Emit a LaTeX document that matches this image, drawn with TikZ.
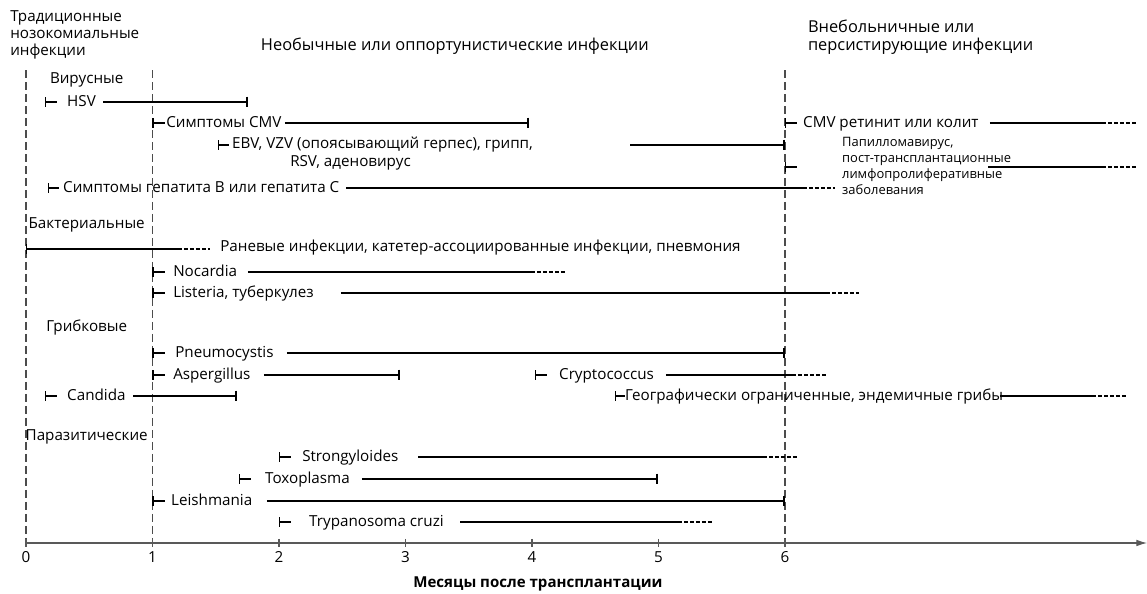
\documentclass[tikz,border=0pt]{standalone}
\usepackage{fontspec}
\setmainfont{Open Sans}
\usetikzlibrary{arrows.meta}

\begin{document}
\begin{tikzpicture}[x=94.875pt,y=-.75pt,
  txt/.style={anchor=west,inner sep=0pt,text height=1.5ex,text depth=.3ex,font=\fontsize{11.4}{13}\selectfont},
  grp/.style={inner sep=0pt,text height=1.5ex,text depth=.3ex,font=\fontsize{11.4}{13}\selectfont},
  note/.style={anchor=west,inner sep=0pt,align=left,font=\fontsize{9.7}{12}\selectfont},
  head/.style={inner sep=0pt,align=left,font=\fontsize{12.3}{13.5}\selectfont},
  run/.style={line width=1pt},
  tail/.style={line width=.8pt,dash pattern=on 3pt off 1.5pt},
  onset/.style={line width=1pt,{Bar[width=7pt]}-},
  stop/.style={line width=1pt,-{Bar[width=8pt,line width=1.8pt]}},
  phase/.style={black!70,line width=.8pt,dash pattern=on 6pt off 3pt}]
\useasboundingbox (-0.2055,0) rectangle (8.862,594);
\draw[phase] (0,70) -- (0,543);
\draw[phase] (1,70) -- (1,543);
\draw[phase] (6,70) -- (6,543);
\node[head,anchor=west,font=\fontsize{11.4}{12.75}\selectfont] (trad) at (-0.126,35) {Традиционные\\нозокомиальные\\инфекции};
\node[head] (opp) at (3.39,46) {Необычные или оппортунистические инфекции};
\node[head,anchor=west] (comm) at (6.18,37) {Внебольничные или\\персистирующие инфекции};
\node[grp] (vir) at (0.48,79) {Вирусные};
\draw[onset] (0.15,102) -- ++(0.095,0);
\node[txt] (hsv) at (0.324,102) {HSV};
\draw[stop] (0.609,102) -- (1.755,102);
\draw[onset] (1,123) -- ++(0.095,0);
\node[txt] (cmv) at (1.107,123) {Симптомы CMV};
\draw[stop] (2.047,123) -- (3.98,123);
\draw[onset] (6,123) -- ++(0.095,0);
\node[txt] (cmvr) at (6.142,123) {CMV ретинит или колит};
\draw[run] (7.62,123) -- (8.506,123);
\draw[tail] (8.506,123) -- (8.783,123);
\draw[onset] (1.518,145) -- ++(0.085,0);
\node[txt] (ebv) at (1.628,144) {EBV, VZV (опоясывающий герпес), грипп,};
\node[txt] (rsv) at (2.087,162) {RSV, аденовирус};
\draw[stop] (4.775,145) -- (6,145);
\draw[onset] (6,167) -- ++(0.095,0);
\node[note] (hpv) at (6.45,166) {Папилломавирус,\\пост-трансплантационные\\лимфопролиферативные\\заболевания};
\draw[run] (7.605,167) -- (8.506,167);
\draw[tail] (8.506,167) -- (8.783,167);
\draw[onset] (0.174,188) -- ++(0.09,0);
\node[txt] (hep) at (0.292,188) {Симптомы гепатита B или гепатита C};
\draw[run] (2.53,188) -- (6.142,188);
\draw[tail] (6.142,188) -- (6.395,188);
\node[grp] (bact) at (0.48,224) {Бактериальные};
\draw[onset] (0,249) -- (1.2,249);
\draw[tail] (1.2,249) -- (1.455,249);
\node[txt] (wound) at (1.534,247) {Раневые инфекции, катетер-ассоциированные инфекции, пневмония};
\draw[onset] (1,272) -- ++(0.095,0);
\node[txt] (noc) at (1.162,272) {Nocardia};
\draw[run] (1.755,272) -- (3.992,272);
\draw[tail] (3.992,272) -- (4.269,272);
\draw[onset] (1,293) -- ++(0.095,0);
\node[txt] (list) at (1.162,293) {Listeria, туберкулез};
\draw[run] (2.49,293) -- (6.324,293);
\draw[tail] (6.324,293) -- (6.585,293);
\node[grp] (fung) at (0.48,327) {Грибковые};
\draw[onset] (1,353) -- ++(0.095,0);
\node[txt] (pcp) at (1.178,353) {Pneumocystis};
\draw[stop] (2.063,353) -- (6,353);
\draw[onset] (1,375) -- ++(0.095,0);
\node[txt] (asp) at (1.162,375) {Aspergillus};
\draw[stop] (1.881,375) -- (2.957,375);
\draw[onset] (4.024,375) -- ++(0.095,0);
\node[txt] (crypt) at (4.213,375) {Cryptococcus};
\draw[run] (5.059,375) -- (6.055,375);
\draw[tail] (6.055,375) -- (6.324,375);
\draw[onset] (0.15,396) -- ++(0.095,0);
\node[txt] (cand) at (0.324,396) {Candida};
\draw[stop] (0.846,396) -- (1.668,396);
\draw[onset] (4.656,396) -- ++(0.08,0);
\node[txt] (geo) at (4.735,396) {Географически ограниченные, эндемичные грибы};
\draw[run] (7.7,396) -- (8.427,396);
\draw[tail] (8.427,396) -- (8.696,396);
\node[grp] (para) at (0.48,436) {Паразитические};
\draw[onset] (2,457) -- ++(0.095,0);
\node[txt] (strong) at (2.182,457) {Strongyloides};
\draw[run] (3.099,457) -- (5.826,457);
\draw[tail] (5.826,457) -- (6.095,457);
\draw[onset] (1.684,479) -- ++(0.095,0);
\node[txt] (toxo) at (1.889,479) {Toxoplasma};
\draw[stop] (2.656,479) -- (5,479);
\draw[onset] (1,501) -- ++(0.095,0);
\node[txt] (leish) at (1.146,501) {Leishmania};
\draw[stop] (1.905,501) -- (6,501);
\draw[onset] (2,522) -- ++(0.095,0);
\node[txt] (tryp) at (2.237,522) {Trypanosoma cruzi};
\draw[run] (3.431,522) -- (5.154,522);
\draw[tail] (5.154,522) -- (5.423,522);
\draw[black!65,line width=.8pt,-{Latex[length=8pt,width=5pt]}] (0,543) -- (8.862,543);
\foreach \m in {0,...,6} {
  \draw[black!65,line width=.8pt] (\m,539) -- (\m,547);
  \node[grp] (t\m) at (\m,558) {\m};
}
\node[grp,font=\fontsize{11.3}{13}\selectfont\bfseries] (xlab) at (4.047,583) {Месяцы после трансплантации};
\end{tikzpicture}
\end{document}
